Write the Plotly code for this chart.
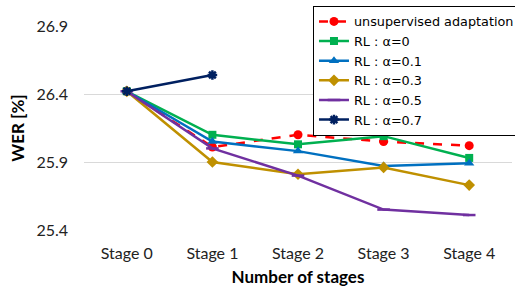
import plotly.graph_objects as go

stages = ["Stage 0", "Stage 1", "Stage 2", "Stage 3", "Stage 4"]
unsup = [26.42, 26.01, 26.10, 26.05, 26.02]
rl_a0 = [26.42, 26.10, 26.03, 26.09, 25.93]
rl_a01 = [26.42, 26.05, 25.98, 25.87, 25.89]
rl_a03 = [26.42, 25.90, 25.81, 25.86, 25.73]
rl_a05 = [26.42, 26.00, 25.80, 25.55, 25.51]
rl_a07 = [26.42, 26.54]
y_ticks = [25.4, 25.9, 26.4, 26.9]

series = [
    ("unsupervised adaptation", unsup, "#FF0000", "circle", "dash", 9),
    ("RL : α=0", rl_a0, "#00B050", "square", "solid", 8),
    ("RL : α=0.1", rl_a01, "#0070C0", "triangle-up", "solid", 9),
    ("RL : α=0.3", rl_a03, "#BF9000", "diamond", "solid", 9),
    ("RL : α=0.5", rl_a05, "#7030A0", "line-ew", "solid", 9),
    ("RL : α=0.7", rl_a07, "#002060", "asterisk", "solid", 8),
]

fig = go.Figure()
for name, vals, color, sym, dash, ms in series:
    fig.add_trace(go.Scatter(
        x=stages[:len(vals)], y=vals, name=name, mode="lines+markers",
        line=dict(color=color, width=2.5, dash=dash),
        marker=dict(symbol=sym, size=ms, color=color,
                    line=dict(color=color, width=2.5 if sym in ("line-ew", "asterisk") else 0)),
    ))

fig.update_layout(
    width=515, height=289,
    margin=dict(l=84, r=3, t=26, b=59, autoexpand=False),
    paper_bgcolor="white", plot_bgcolor="white",
    font=dict(family="Lato, Arial, sans-serif", size=15, color="#222222"),
    showlegend=True,
    legend=dict(
        x=0.535, y=1.10, xanchor="left", yanchor="top",
        bordercolor="black", borderwidth=1, bgcolor="white",
        font=dict(family="DejaVu Sans, sans-serif", size=12.8, color="black"),
        itemwidth=30, tracegroupgap=0,
    ),
    xaxis=dict(
        categoryorder="array", categoryarray=stages, automargin=False,
        range=[-0.5, 4.5],
        showgrid=False, showline=False, ticks="", ticklabelstandoff=12,
        title=dict(text="<b>Number of stages</b>", font=dict(size=17, color="black"), standoff=10),
        tickfont=dict(size=16),
    ),
    yaxis=dict(
        range=[25.4, 26.9], tickvals=y_ticks, ticktext=[f"{v:.1f}" for v in y_ticks],
        showgrid=True, gridcolor="#D9D9D9", gridwidth=1, zeroline=False, automargin=False,
        showline=False, ticks="", ticklabelstandoff=15,
        title=dict(text="<b>WER [%]</b>", font=dict(size=17, color="black"), standoff=7),
        tickfont=dict(size=16),
    ),
)

fig.write_html("out.html", config={"displayModeBar": False},
               post_script="document.body.style.margin='0';document.body.style.overflow='hidden';")
